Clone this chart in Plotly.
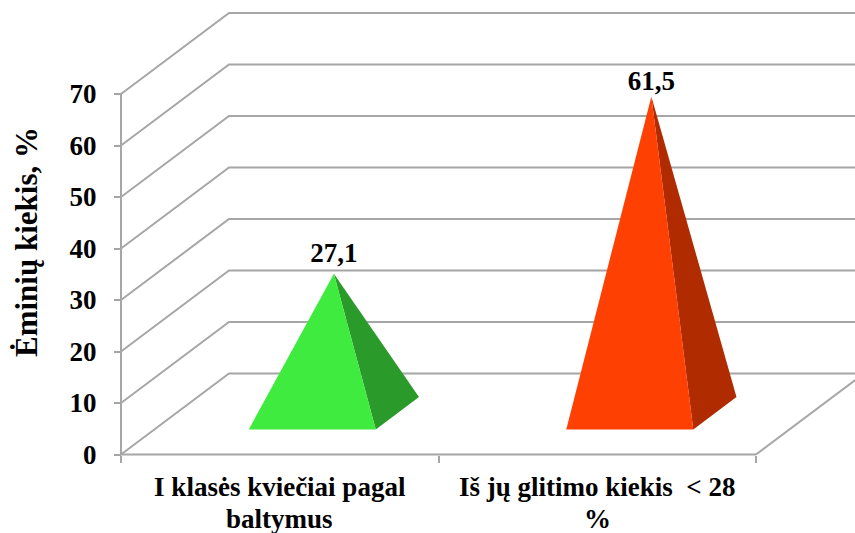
import plotly.graph_objects as go

category_line1 = ["I klasės kviečiai pagal", "Iš jų glitimo kiekis  &lt; 28"]
category_line2 = ["baltymus", "%"]
values = [27.1, 61.5]
value_labels = ["27,1", "61,5"]
label_lift = [1.0, 0.0]
y_ticks = [0, 10, 20, 30, 40, 50, 60, 70]
y_title = "Ėminių kiekis, %"
front_colors = ["#40EB40", "#FF4003"]
side_colors = ["#2A9A2A", "#B02B00"]
GRID = "#A6A6A6"
FONT = "Liberation Serif"
W, H = 855, 533
X0, Y0 = 121.0, 454.5          # pixel of the axes' origin
CAT_PX, VAL_PX = 317.5, 5.15   # pixels per category, per value unit
DEPTH_X, DEPTH_Y = 108.0, 81.0 # pixels of the full depth of the 3D box
HALF_W = 0.2
D_CENTER, D_HALF = 0.51, 0.2
BAR_CENTER = 0.497


def proj(x, v, d):
    """Oblique projection of (category, value, depth) into the 2D data space."""
    return x + d * DEPTH_X / CAT_PX, v + d * DEPTH_Y / VAL_PX


def poly(pts):
    p = [proj(*q) for q in pts]
    return [a for a, _ in p], [b for _, b in p]


fig = go.Figure()
ncat = len(category_line1)


def line(pts, width=2):
    xs, ys = poly(pts)
    fig.add_trace(go.Scatter(x=xs, y=ys, mode="lines", line=dict(color=GRID, width=width),
                             hoverinfo="skip", showlegend=False))


for t in y_ticks:
    line([(0, t, 0), (0, t, 1), (ncat, t, 1)])
line([(0, 0, 0), (0, y_ticks[-1], 0)])
line([(0, 0, 0), (ncat, 0, 0)])
line([(ncat, 0, 0), (ncat, 0, 1)])

for i, v in enumerate(values):
    c = i + BAR_CENTER
    apex = (c, v, D_CENTER)
    fl = (c - HALF_W, 0, D_CENTER - D_HALF)
    fr = (c + HALF_W, 0, D_CENTER - D_HALF)
    br = (c + HALF_W, 0, D_CENTER + D_HALF)
    xs, ys = poly([apex, fr, br, apex])
    fig.add_trace(go.Scatter(x=xs, y=ys, mode="lines", fill="toself", fillcolor=side_colors[i],
                             line=dict(width=0, color=side_colors[i]), hoverinfo="skip", showlegend=False))
    xs, ys = poly([apex, fl, fr, apex])
    fig.add_trace(go.Scatter(x=xs, y=ys, mode="lines", fill="toself", fillcolor=front_colors[i],
                             line=dict(width=0, color=front_colors[i]), hoverinfo="skip", showlegend=False))
    xs, ys = poly([(c, v + label_lift[i], D_CENTER)])
    fig.add_trace(go.Scatter(x=xs, y=ys, mode="text", text=[value_labels[i]], textposition="top center",
                             textfont=dict(family=FONT, size=27, color="#000000", weight="bold"),
                             hoverinfo="skip", showlegend=False))

tick_font = dict(family=FONT, size=27, color="#000000", weight="bold")
annotations = [dict(text=f"<b>{y_title}</b>", textangle=-90, xref="paper", yref="paper",
                    x=27 / W, y=1 - 242 / H, xanchor="center", yanchor="middle", showarrow=False,
                    font=dict(family=FONT, size=31, color="#000000"))]
for i, t in enumerate(category_line2):
    annotations.append(dict(text=f"<b>{t}</b>", xref="x", yref="paper", x=i + 0.5, y=1 - 519 / H,
                            xanchor="center", yanchor="middle", showarrow=False,
                            font=dict(family=FONT, size=27, color="#000000")))

fig.update_layout(
    width=W, height=H, margin=dict(l=0, r=0, t=0, b=0, autoexpand=False),
    paper_bgcolor="white", plot_bgcolor="white", showlegend=False,
    xaxis=dict(
        range=[-X0 / CAT_PX, (W - X0) / CAT_PX], domain=[0, 1], automargin=False,
        anchor="free", position=1 - Y0 / H,
        tickmode="array", tickvals=[i + 0.5 for i in range(ncat)], ticktext=category_line1,
        ticks="", ticklen=0, tickangle=0, tickfont=tick_font, ticklabelstandoff=13,
        showgrid=False, zeroline=False, showline=False,
        minor=dict(tickmode="array", tickvals=list(range(ncat + 1)), ticks="outside", ticklen=7,
                   tickwidth=2, tickcolor=GRID, showgrid=False),
    ),
    yaxis=dict(
        range=[(Y0 - H) / VAL_PX, Y0 / VAL_PX], domain=[0, 1], automargin=False,
        anchor="free", position=X0 / W,
        tickmode="array", tickvals=y_ticks, ticks="outside", ticklen=7, tickwidth=2, tickcolor=GRID,
        tickfont=tick_font, ticklabelstandoff=12, showgrid=False, zeroline=False, showline=False,
    ),
    annotations=annotations,
)

fig.write_html("out.html", config={"displayModeBar": False},
               post_script="document.body.style.margin='0';document.body.style.overflow='hidden';")
